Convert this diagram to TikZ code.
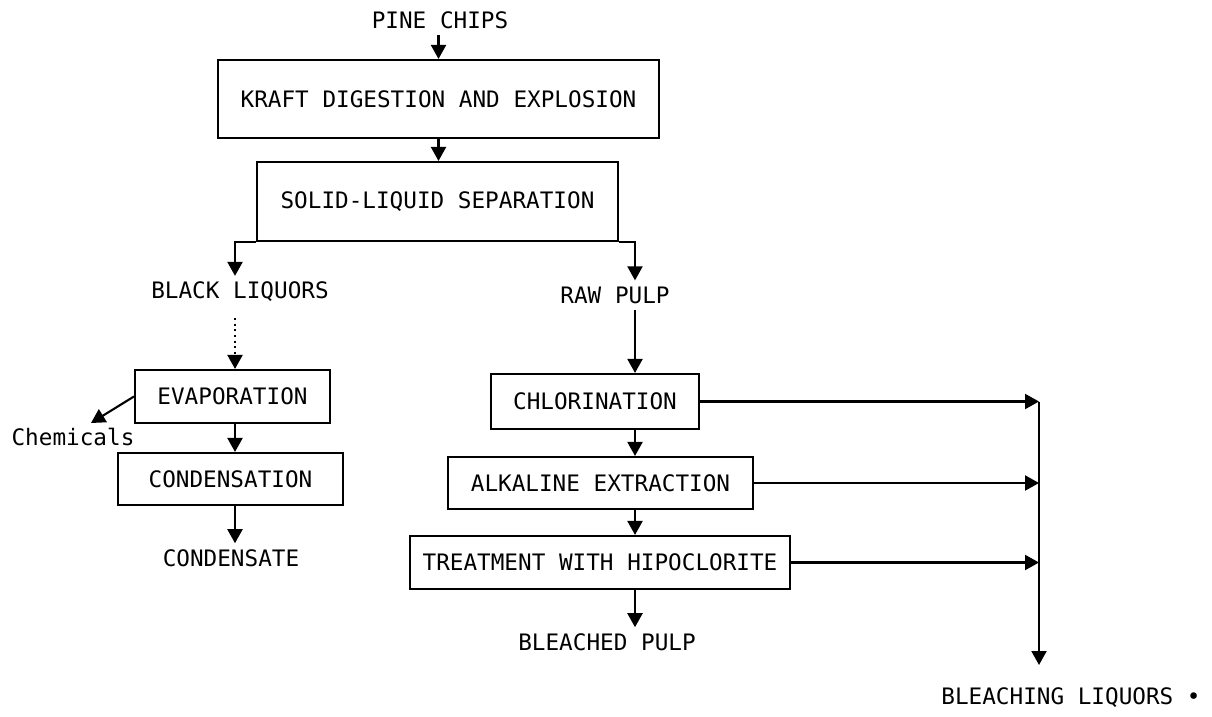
\documentclass[tikz,border=0pt]{standalone}
\usepackage{fontspec}
\setmonofont{DejaVu Sans Mono}
\usetikzlibrary{arrows.meta}

\begin{document}
\begin{tikzpicture}[x=0.02cm, y=-0.02cm, >={Triangle[length=0.28cm, width=0.3cm]},
    every node/.style={font=\ttfamily\fontsize{12.9}{15}\selectfont},
    box/.style={rectangle, draw, line width=1.2pt},
    flow/.style={->, line width=1.2pt}]
  \useasboundingbox (0,0) rectangle (1212,716);
  \node (pine) at (440,20) {PINE CHIPS};
  \node[box, minimum width=8.82cm, minimum height=1.56cm] (kraft) at (438.5,99) {KRAFT DIGESTION AND EXPLOSION};
  \node[box, minimum width=7.22cm, minimum height=1.58cm] (solid) at (437.5,201.5) {SOLID-LIQUID SEPARATION};
  \node (black) at (240,292) {BLACK LIQUORS};
  \node (raw) at (615,295) {RAW PULP};
  \node[box, minimum width=3.9cm, minimum height=1.06cm] (evap) at (232.5,396.5) {EVAPORATION};
  \node (chem) at (73,437) {Chemicals};
  \node[box, minimum width=4.5cm, minimum height=1.04cm] (cond) at (230.5,479) {CONDENSATION};
  \node (condensate) at (231,558) {CONDENSATE};
  \node[box, minimum width=4.16cm, minimum height=1.1cm] (chlor) at (595,401.5) {CHLORINATION};
  \node[box, minimum width=6.1cm, minimum height=1.04cm] (alk) at (600.5,483) {ALKALINE EXTRACTION};
  \node[box, minimum width=7.6cm, minimum height=1.06cm] (treat) at (600,562.5) {TREATMENT WITH HIPOCLORITE};
  \node (bleached) at (607,642) {BLEACHED PULP};
  \node (bleaching) at (1071,698) {BLEACHING LIQUORS •};
  \coordinate (liqcol) at (235,0);
  \coordinate (pulpcol) at (635,0);
  \coordinate (liqbus) at (1039,0);
  \coordinate (busend) at (1039,665);
  \coordinate (chemtip) at (91,423);
  \draw[flow] (kraft.north |- pine.south) -- (kraft.north);
  \draw[flow] (kraft.south) -- (kraft.south |- solid.north);
  \draw[flow] (solid.south west) -| (black.north -| liqcol);
  \draw[flow] (solid.south east) -| (raw.north -| pulpcol);
  \draw[flow, dotted, shorten <=0.2cm] (black.south -| liqcol) -- (evap.north -| liqcol);
  \draw[flow] (evap.west) -- (chemtip);
  \draw[flow] (evap.south -| liqcol) -- (cond.north -| liqcol);
  \draw[flow] (cond.south -| liqcol) -- (condensate.north -| liqcol);
  \draw[flow] (raw.south -| pulpcol) -- (chlor.north -| pulpcol);
  \draw[flow] (chlor.south -| pulpcol) -- (alk.north -| pulpcol);
  \draw[flow] (alk.south -| pulpcol) -- (treat.north -| pulpcol);
  \draw[flow] (treat.south -| pulpcol) -- (bleached.north -| pulpcol);
  \draw[flow] (chlor.east) -- (chlor.east -| liqbus);
  \draw[flow] (alk.east) -- (alk.east -| liqbus);
  \draw[flow] (treat.east) -- (treat.east -| liqbus);
  \draw[flow] (chlor.east -| liqbus) -- (busend);
\end{tikzpicture}
\end{document}
